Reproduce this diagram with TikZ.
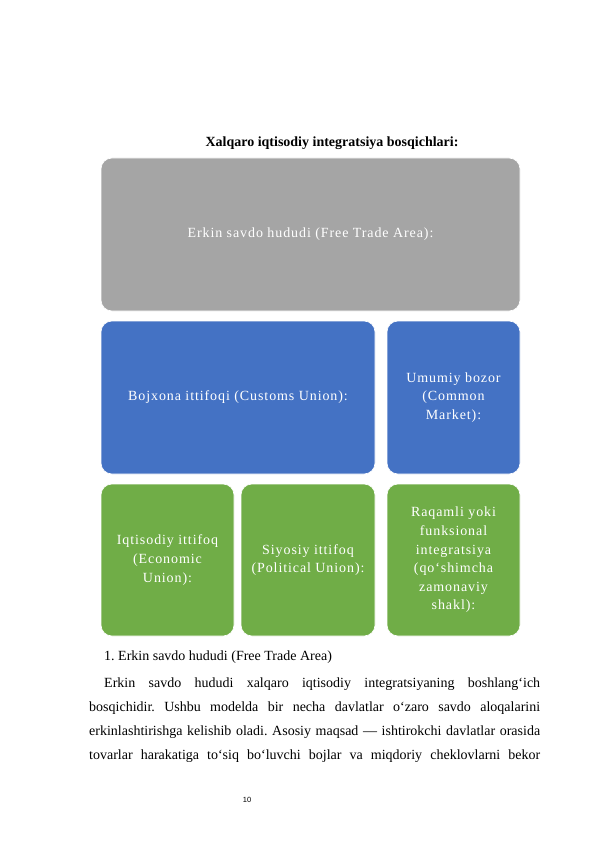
\documentclass[tikz,border=0pt]{standalone}
\usepackage{fontspec}
\setmainfont{Liberation Serif}
\newfontfamily\boxfont[LetterSpace=6.5]{Liberation Serif}
\newfontfamily\numfont{Liberation Sans}
\definecolor{grayfill}{HTML}{A5A5A5}
\definecolor{bluefill}{HTML}{4472C4}
\definecolor{greenfill}{HTML}{70AD47}
\tikzset{
  stage/.style={rounded corners=11pt, draw=white, line width=0.6pt, text=white, align=center, inner sep=0pt, font=\boxfont\fontsize{14}{18.6}\selectfont},
  graystage/.style={stage, fill=grayfill},
  bluestage/.style={stage, fill=bluefill},
  greenstage/.style={stage, fill=greenfill},
  bodyline/.style={anchor=base west, inner sep=0pt, font=\frenchspacing\fontsize{14}{16}\selectfont}
}
\begin{document}
\begin{tikzpicture}[x=1pt,y=-1pt]
\useasboundingbox[fill=white] (0,0) rectangle (595,842);
\node[anchor=base, inner sep=0pt, font=\bfseries\fontsize{14}{16}\selectfont] (title) at (332,147) {Xalqaro iqtisodiy integratsiya bosqichlari:};
\node[graystage, minimum width=419pt, minimum height=153pt] (fta) at (310.5,234.5) {Erkin savdo hududi (Free Trade Area):};
\node[bluestage, minimum width=274pt, minimum height=153pt] (cu) at (238,397.5) {Bojxona ittifoqi (Customs Union):};
\node[bluestage, minimum width=133pt, minimum height=153pt] (cm) at (453.5,397.5) {Umumiy bozor\\(Common\\Market):};
\node[greenstage, minimum width=133pt, minimum height=152pt] (eu) at (167.5,560) {Iqtisodiy ittifoq\\(Economic\\Union):};
\node[greenstage, minimum width=134pt, minimum height=152pt] (pu) at (308,560) {Siyosiy ittifoq\\(Political Union):};
\node[greenstage, minimum width=133pt, minimum height=152pt] (di) at (453.5,560) {Raqamli yoki\\funksional\\integratsiya\\(qo‘shimcha\\zamonaviy\\shakl):};
\node[bodyline] (h1) at (104,660) {1. Erkin savdo hududi (Free Trade Area)};
\node[bodyline] (l1) at (104,687) {\hbox to 436pt{Erkin savdo hududi xalqaro iqtisodiy integratsiyaning boshlang‘ich}};
\node[bodyline] (l2) at (89,711) {\hbox to 451pt{bosqichidir. Ushbu modelda bir necha davlatlar o‘zaro savdo aloqalarini}};
\node[bodyline] (l3) at (89,735) {\hbox to 451pt{erkinlashtirishga kelishib oladi. Asosiy maqsad — ishtirokchi davlatlar orasida}};
\node[bodyline] (l4) at (89,759) {\hbox to 451pt{tovarlar harakatiga to‘siq bo‘luvchi bojlar va miqdoriy cheklovlarni bekor}};
\node[anchor=base, inner sep=0pt, font=\numfont\fontsize{7.5}{9}\selectfont] (pg) at (247,802) {10};
\end{tikzpicture}
\end{document}
